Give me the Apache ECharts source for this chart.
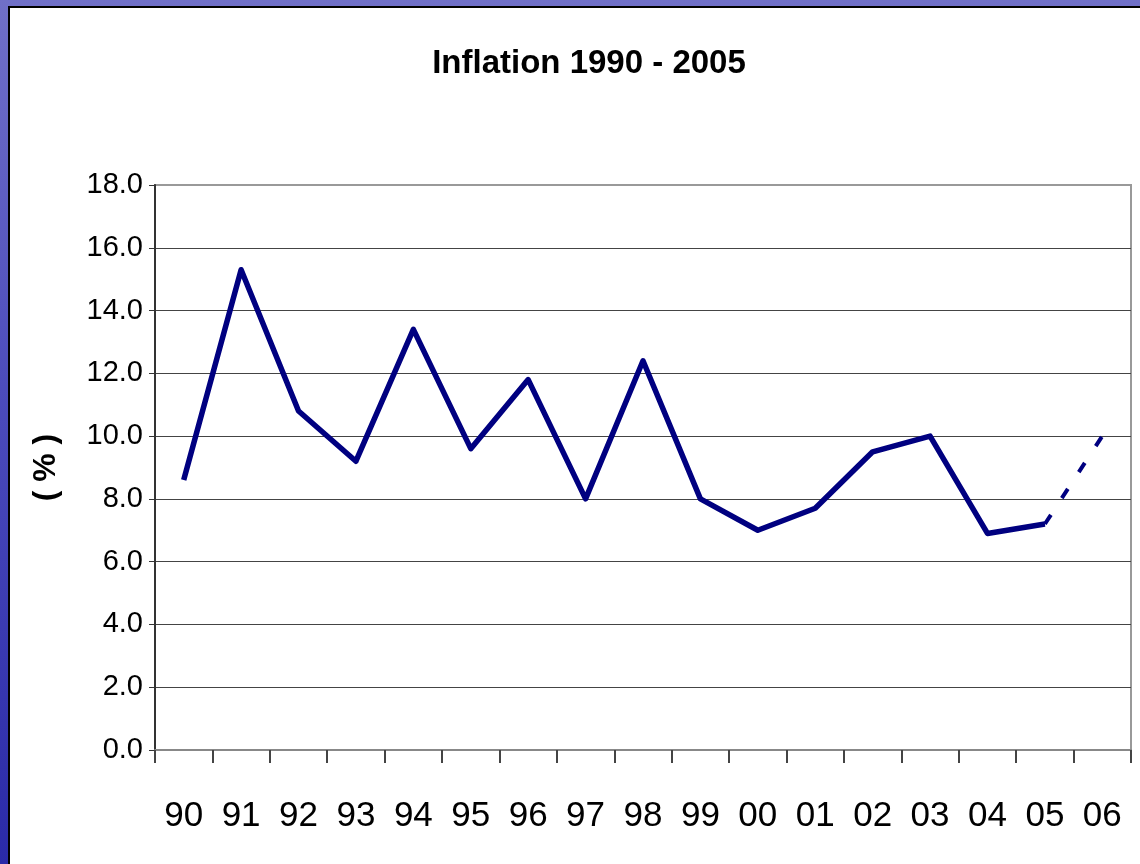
<!DOCTYPE html>
<html>
<head>
<meta charset="utf-8">
<script src="https://cdn.jsdelivr.net/npm/echarts@6/dist/echarts.min.js"></script>
<style>
html, body { margin:0; padding:0; }
body {
    width:1140px; height:864px; overflow:hidden; position:relative;
    background: linear-gradient(180deg, #7070c8 0%, #4c4cbc 45%, #2a2aa8 100%);
}
#panel {
    position:absolute; left:8px; top:6px; width:1140px; height:864px;
    background:#fff; border-left:2px solid #000; border-top:2px solid #000;
}
#main { position:absolute; left:0; top:0; width:1140px; height:864px; }
</style>
</head>
<body>
<div id="panel"></div>
<div id="main"></div>
<script>
// 年份（横轴）
var years = ['90','91','92','93','94','95','96','97','98','99','00','01','02','03','04','05','06'];
// 通胀率 1990-2005（实线）
var inflation = [8.6, 15.3, 10.8, 9.2, 13.4, 9.6, 11.8, 8.0, 12.4, 8.0, 7.0, 7.7, 9.5, 10.0, 6.9, 7.2];
// 2006 预测（虚线）
var forecast06 = 10.0;
// 纵轴刻度
var yTicks = [0, 2, 4, 6, 8, 10, 12, 14, 16, 18];

var FONT = "'Liberation Sans', Arial, sans-serif";

var solidData = inflation.slice();
solidData.push(null);
var dashData = [];
for (var i = 0; i < years.length; i++) {
    dashData.push(null);
}
dashData[inflation.length - 1] = inflation[inflation.length - 1];
dashData[years.length - 1] = forecast06;

var chart = echarts.init(document.getElementById('main'));
var option = {
    animation: false,
    title: {
        text: 'Inflation 1990 - 2005',
        left: 584,
        textAlign: 'center',
        top: 42,
        textStyle: { fontFamily: FONT, fontWeight: 'bold', fontSize: 33, color: '#000' }
    },
    grid: {
        left: 155, right: 9, top: 185, bottom: 114,
        show: true, borderColor: '#999', borderWidth: 2, backgroundColor: 'transparent'
    },
    xAxis: {
        type: 'category',
        data: years,
        boundaryGap: true,
        axisLine: { lineStyle: { color: '#888', width: 2 } },
        axisTick: { show: true, length: 13, interval: 0, lineStyle: { color: '#444', width: 2 } },
        axisLabel: { interval: 0, margin: 49, fontFamily: FONT, fontSize: 35, color: '#000' }
    },
    yAxis: {
        type: 'value',
        min: yTicks[0],
        max: yTicks[yTicks.length - 1],
        interval: 2,
        name: '( % )',
        nameLocation: 'middle',
        nameRotate: 90,
        nameGap: 93,
        nameTextStyle: { fontFamily: FONT, fontWeight: 'bold', fontSize: 32, color: '#000' },
        axisLine: { show: true, lineStyle: { color: '#333', width: 2 } },
        axisTick: { show: true, length: 6, lineStyle: { color: '#333', width: 1 } },
        axisLabel: {
            margin: 12, fontFamily: FONT, fontSize: 29, color: '#000',
            formatter: function (v) { return v.toFixed(1); }
        },
        splitLine: { show: true, showMinLine: false, showMaxLine: false, lineStyle: { color: '#444', width: 1 } }
    },
    series: [
        {
            name: 'inflation',
            type: 'line',
            data: solidData,
            showSymbol: false,
            symbol: 'none',
            lineStyle: { color: '#000080', width: 5.5, join: 'round' }
        },
        {
            name: 'forecast',
            type: 'line',
            data: dashData,
            connectNulls: false,
            showSymbol: false,
            symbol: 'none',
            lineStyle: { color: '#000080', width: 4, type: [11, 20] }
        }
    ]
};
chart.setOption(option);
</script>
</body>
</html>
